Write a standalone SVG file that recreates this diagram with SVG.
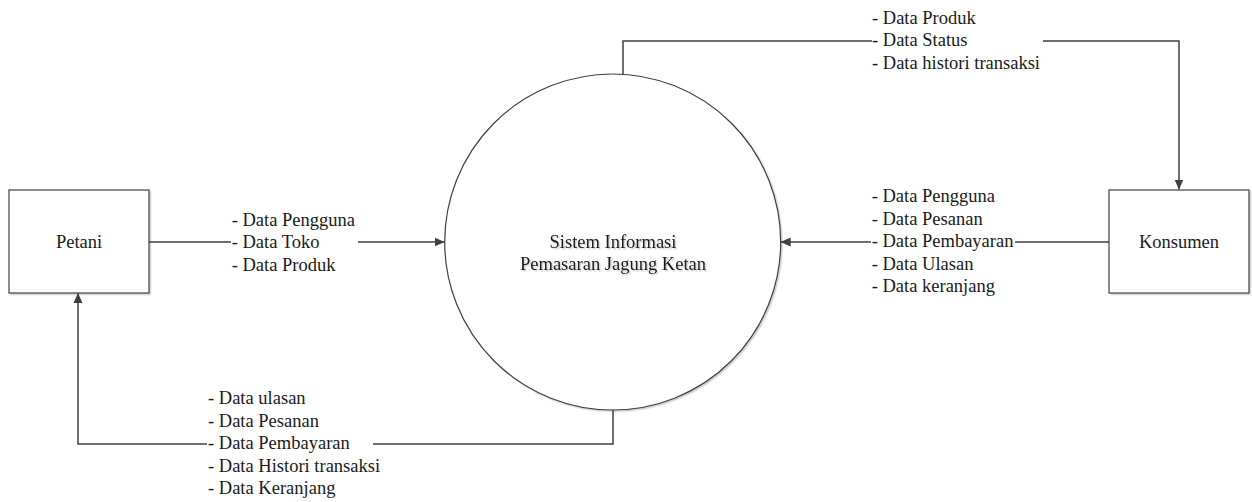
<svg xmlns="http://www.w3.org/2000/svg" width="1252" height="502" viewBox="0 0 1252 502">
<style>
text{font-family:'Liberation Serif','Times New Roman',serif;font-size:18.5px;fill:#1a1a1a}
.ctr{text-anchor:middle}
.box{fill:#fff;stroke:#404040;stroke-width:1.2}
.ln{fill:none;stroke:#404040;stroke-width:1.5}
</style>
<defs>
<marker id="arr" viewBox="0 0 10 10" refX="10" refY="5" markerWidth="10" markerHeight="10" markerUnits="userSpaceOnUse" orient="auto">
<path d="M0,0.5 L10,5 L0,9.5 Z" fill="#404040"/>
</marker>
<filter id="sh" x="-10%" y="-10%" width="120%" height="120%">
<feDropShadow dx="1.5" dy="1.5" stdDeviation="0.6" flood-color="#000" flood-opacity="0.18"/>
</filter>
</defs>
<g id="petani">
<rect class="box" x="9" y="190" width="140" height="103" filter="url(#sh)"/>
<text class="ctr" x="79" y="248">Petani</text>
</g>
<g id="konsumen">
<rect class="box" x="1109" y="190" width="140" height="103" filter="url(#sh)"/>
<text class="ctr" x="1179" y="248">Konsumen</text>
</g>
<g id="sistem">
<circle class="box" cx="612.7" cy="242" r="168" filter="url(#sh)"/>
<text class="ctr" x="613" y="248" filter="url(#sh)">Sistem Informasi</text>
<text class="ctr" x="613" y="270" filter="url(#sh)">Pemasaran Jagung Ketan</text>
</g>
<g id="connectors">
<path class="ln" d="M149,242 H231"/>
<path class="ln" d="M358,242 H444.7" marker-end="url(#arr)"/>
<path class="ln" d="M623,74 V41 H872"/>
<path class="ln" d="M1043,41 H1179 V189.5" marker-end="url(#arr)"/>
<path class="ln" d="M1109,242 H1015"/>
<path class="ln" d="M871,242 H780.7" marker-end="url(#arr)"/>
<path class="ln" d="M613,410 V444 H373"/>
<path class="ln" d="M207,444 H78 V293" marker-end="url(#arr)"/>
</g>
<g id="labels">
<text x="231.7" y="225.5">- Data Pengguna</text>
<text x="231.7" y="248">- Data Toko</text>
<text x="231.7" y="270.5">- Data Produk</text>
<text x="872" y="23.5">- Data Produk</text>
<text x="872" y="46">- Data Status</text>
<text x="872" y="68.5">- Data histori transaksi</text>
<text x="871.7" y="202">- Data Pengguna</text>
<text x="871.7" y="224.5">- Data Pesanan</text>
<text x="871.7" y="247">- Data Pembayaran</text>
<text x="871.7" y="269.5">- Data Ulasan</text>
<text x="871.7" y="292">- Data keranjang</text>
<text x="208" y="404">- Data ulasan</text>
<text x="208" y="426.5">- Data Pesanan</text>
<text x="208" y="449">- Data Pembayaran</text>
<text x="208" y="471.5">- Data Histori transaksi</text>
<text x="208" y="494">- Data Keranjang</text>
</g>
</svg>
